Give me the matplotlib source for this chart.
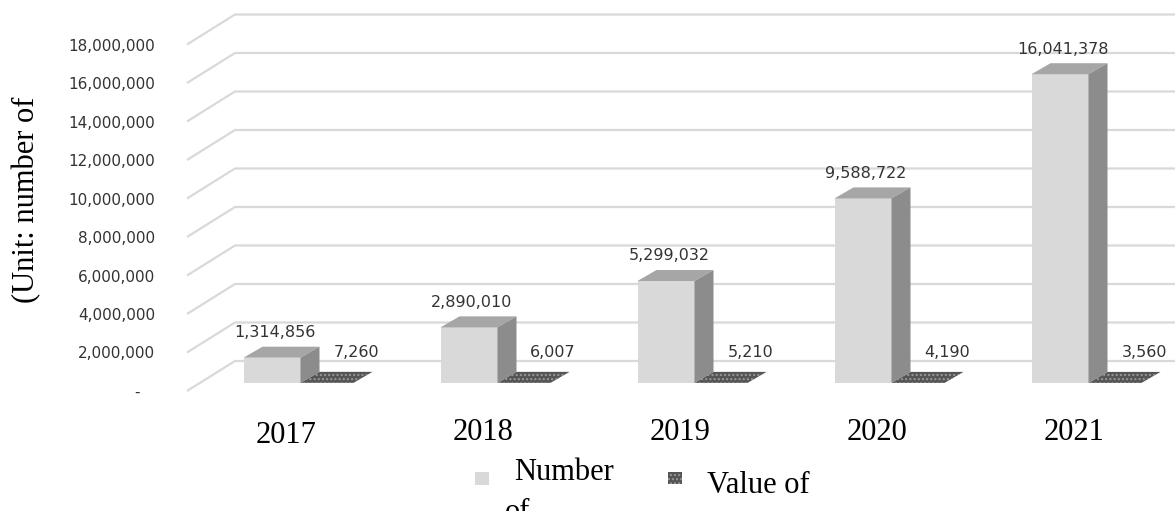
import matplotlib
matplotlib.use("Agg")
import matplotlib.pyplot as plt
from matplotlib.patches import Polygon, Rectangle
from matplotlib.transforms import ScaledTranslation

years = ["2017", "2018", "2019", "2020", "2021"]
number_of = [1314856, 2890010, 5299032, 9588722, 16041378]
value_of = [7260, 6007, 5210, 4190, 3560]
yticks = [0, 2000000, 4000000, 6000000, 8000000, 10000000, 12000000, 14000000, 16000000, 18000000]
ytick_labels = ["-   "] + ["{:,}".format(t) for t in yticks[1:]]
legend_labels = ["Number", "of", "Value of"]
ylabel = "(Unit: number of"

W, H = 1175, 511
fig = plt.figure(figsize=(W / 100, H / 100), dpi=100)

# axes box in pixels, bars stand on y=0 at pixel row 383
ax_left, ax_bottom_px = 187, 400
ax = fig.add_axes([ax_left / W, 1 - ax_bottom_px / H, 1 - ax_left / W, ax_bottom_px / H])
per_px = 1e6 / 19.25          # value units per pixel
cat_px = 197.0                # pixels per category
first_bar = 272               # pixel x of first light bar centre
ax.set_ylim(-(ax_bottom_px - 383) * per_px, 383 * per_px)
ax.set_xlim((ax_left - first_bar) / cat_px, (W - first_bar) / cat_px)
for s in ax.spines.values():
    s.set_visible(False)

x0, x1 = ax.get_xlim()
dx = 19 / cat_px
dy = 11 * per_px
floor_front = -8 * per_px
wall_back = 22 * per_px
wall_dx = 48 / cat_px

grid_c = "#d9d9d9"
for t in yticks:
    ax.plot([x0, x0 + wall_dx, x1], [t + floor_front, t + wall_back, t + wall_back],
            color=grid_c, lw=1.6, zorder=1, clip_on=False, solid_capstyle="butt")

front_c = "#d9d9d9"
top_c = "#a6a6a6"
side_c = "#8c8c8c"
dark_c = "#555555"

w1 = 57 / cat_px
w2 = 53 / cat_px
xs = list(range(len(years)))
x_dark = [x + (w1 + w2) / 2 for x in xs]

# flat dark bars (value series)
for xd, v in zip(x_dark, value_of):
    ax.add_patch(Polygon([(xd - w2 / 2, v), (xd + w2 / 2, v), (xd + w2 / 2 + dx, v + dy), (xd - w2 / 2 + dx, v + dy)],
                         closed=True, facecolor=dark_c, edgecolor="#9a9a9a", lw=0, hatch="....", zorder=2))
    ax.annotate("{:,}".format(v), (xd, v), xytext=(21, 22), textcoords="offset points",
                ha="center", va="center", fontsize=11.5, color="#333333", zorder=6)

ax.bar(xs, number_of, width=w1, color=front_c, zorder=4, lw=0)
for x, v in zip(xs, number_of):
    ax.add_patch(Polygon([(x - w1 / 2, v), (x + w1 / 2, v), (x + w1 / 2 + dx, v + dy), (x - w1 / 2 + dx, v + dy)],
                         closed=True, facecolor=top_c, lw=0, zorder=4))
    ax.add_patch(Polygon([(x + w1 / 2, 0), (x + w1 / 2 + dx, dy), (x + w1 / 2 + dx, v + dy), (x + w1 / 2, v)],
                         closed=True, facecolor=side_c, lw=0, zorder=4))
    ax.annotate("{:,}".format(v), (x, v), xytext=(2, 18), textcoords="offset points",
                ha="center", va="center", fontsize=11.5, color="#333333", zorder=6)

ax.set_yticks(yticks, ytick_labels)
ax.tick_params(axis="y", length=0, pad=23, labelsize=11, labelcolor="#333333")
for lbl in ax.get_yticklabels():
    lbl.set_transform(lbl.get_transform() + ScaledTranslation(0, -0.08, fig.dpi_scale_trans))

ax.set_xticks([x + 14 / cat_px for x in xs], years)
ax.tick_params(axis="x", length=0, pad=13)
for lbl in ax.get_xticklabels():
    lbl.set_fontfamily("Liberation Serif")
    lbl.set_fontsize(22)
ax.get_xticklabels()[0].set_transform(ax.get_xticklabels()[0].get_transform()
                                      + ScaledTranslation(0, -0.03, fig.dpi_scale_trans))

fig.text(27 / W, 1 - 200 / H, ylabel, rotation=90, ha="center", va="center",
         fontsize=22, family="Liberation Serif")

# legend (second line of the first entry runs off the bottom, as in the original)
fig.add_artist(Rectangle((475 / W, 1 - 485 / H), 14 / W, 13 / H, transform=fig.transFigure,
                         facecolor=front_c, lw=0))
fig.add_artist(Rectangle((668 / W, 1 - 484 / H), 14 / W, 12 / H, transform=fig.transFigure,
                         facecolor=dark_c, edgecolor="#9a9a9a", lw=0, hatch="...."))
fig.text(514 / W, 1 - 480 / H, legend_labels[0], ha="left", va="baseline",
         fontsize=22, family="Liberation Serif")
fig.text(505 / W, 1 - 520 / H, legend_labels[1], ha="left", va="baseline",
         fontsize=22, family="Liberation Serif")
fig.text(707 / W, 1 - 493 / H, legend_labels[2], ha="left", va="baseline",
         fontsize=22, family="Liberation Serif")

fig.savefig("out.png", dpi=100)
